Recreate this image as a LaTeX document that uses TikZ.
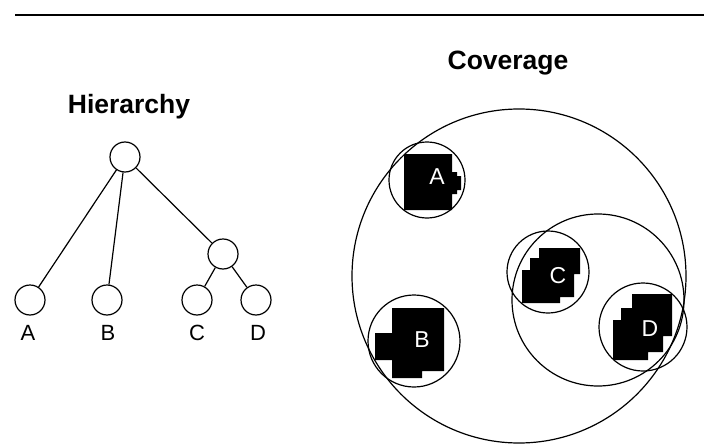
\documentclass[tikz,border=0pt]{standalone}
\usepackage{fontspec}
\setmainfont{Liberation Sans}
\usetikzlibrary{positioning}
\tikzset{
  treenode/.style={circle, draw, line width=1.2pt, minimum size=30pt, inner sep=0pt},
  leaflabel/.style={font=\fontsize{22}{22}\selectfont},
  title/.style={font=\bfseries\fontsize{26.5}{26.5}\selectfont},
  region/.style={circle, draw, line width=1.2pt, inner sep=0pt},
  blob/.style={fill=black},
  blobtext/.style={text=white, font=\fontsize{23}{23}\selectfont},
  edge/.style={line width=1.2pt},
}

\begin{document}
\begin{tikzpicture}[x=1pt, y=-1pt]
\useasboundingbox (0,0) rectangle (704,444);
\draw[line width=2.5pt] (15,15) -- (704,15);

% tree
\node[title] (htitle) at (129,107) {Hierarchy};
\node[treenode] (root) at (125,157) {};
\node[treenode] (mid) at (223,254) {};
\node[treenode] (a) at (30,300) {};
\node[treenode] (b) at (107,300) {};
\node[treenode] (c) at (197,300) {};
\node[treenode] (d) at (256,300) {};
\foreach \n/\x in {a/28, b/108, c/197, d/258}
  \node[leaflabel] (lbl\n) at (\x,333) {\MakeUppercase{\n}};
\draw[edge] (root) -- (a);
\draw[edge] (root) -- (b);
\draw[edge] (root) -- (mid);
\draw[edge] (mid) -- (c);
\draw[edge] (mid) -- (d);

% coverage
\node[title] (ctitle) at (508,63) {Coverage};
\begin{scope}
  \clip (519,276) circle[radius=167pt];
  \fill[blob] (404,154) -- (452,154) -- (452,172) -- (457,172) -- (457,176) -- (461,176)
    -- (461,190) -- (457,190) -- (457,194) -- (452,194) -- (452,210) -- (404,210) -- cycle;
  \fill[blob] (392,308) -- (444,308) -- (444,371) -- (422,371) -- (422,378) -- (392,378)
    -- (392,360) -- (375,360) -- (375,333) -- (392,333) -- cycle;
  \fill[blob] (539,248) -- (580,248) -- (580,274) -- (574,274) -- (574,297) -- (560,297)
    -- (560,303) -- (522,303) -- (522,270) -- (530,270) -- (530,258) -- (539,258) -- cycle;
  \fill[blob] (632,294) -- (672,294) -- (672,336) -- (663,336) -- (663,352) -- (648,352)
    -- (648,360) -- (613,360) -- (613,320) -- (621,320) -- (621,308) -- (632,308) -- cycle;
\end{scope}
\node[region, minimum size=334pt] (all) at (519,276) {};
\node[region, minimum size=172pt] (grpcd) at (598,300) {};
\node[region, minimum size=76pt] (cova) at (427,180) {};
\node[region, minimum size=92pt] (covb) at (414,341) {};
\node[region, minimum size=82pt] (covc) at (548,272) {};
\node[region, minimum size=88pt] (covd) at (643,327) {};
\node[blobtext] at (437,177) {A};
\node[blobtext] at (422,340) {B};
\node[blobtext] at (558,276) {C};
\node[blobtext] at (650,329) {D};
\end{tikzpicture}
\end{document}
